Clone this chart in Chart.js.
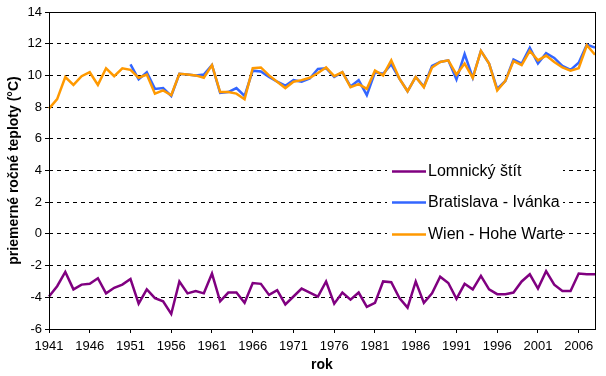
<!DOCTYPE html>
<html>
<head>
<meta charset="utf-8">
<script src="https://cdn.jsdelivr.net/npm/chart.js@4"></script>
<style>
  html, body { margin: 0; padding: 0; background: #fff; }
  #chart { display: block; }
</style>
</head>
<body>
<canvas id="chart" width="606" height="376"></canvas>
<script>
// years on the category axis
var years = [];
for (var y = 1941; y <= 2008; y++) years.push(String(y));

var lomnicky = [
  -3.95, -3.3, -2.4, -3.5, -3.2, -3.15, -2.8, -3.75, -3.4, -3.2,
  -2.85, -4.4, -3.5, -4.05, -4.25, -5.05, -3.0, -3.75, -3.6, -3.75,
  -2.5, -4.25, -3.7, -3.7, -4.35, -3.1, -3.15, -3.85, -3.55, -4.45,
  -3.95, -3.45, -3.7, -3.95, -3.0, -4.4, -3.7, -4.15, -3.7, -4.6,
  -4.35, -3.0, -3.05, -4.05, -4.65, -3.0, -4.35, -3.75, -2.7, -3.1,
  -4.1, -3.15, -3.5, -2.65, -3.5, -3.8, -3.8, -3.7, -3.0, -2.55,
  -3.45, -2.35, -3.2, -3.6, -3.6, -2.5, -2.55, -2.55
];

// Bratislava series starts in 1951
var bratislava = [
  null, null, null, null, null, null, null, null, null, null,
  10.7, 9.75, 10.2, 9.15, 9.2, 8.7, 10.1, 10.05, 10.0, 10.05,
  10.65, 8.9, 8.95, 9.2, 8.7, 10.3, 10.25, 9.9, 9.6, 9.35,
  9.7, 9.6, 9.8, 10.4, 10.45, 9.9, 10.2, 9.3, 9.7, 8.75,
  10.2, 10.1, 10.7, 9.8, 9.0, 9.9, 9.3, 10.6, 10.85, 10.95,
  9.75, 11.35, 9.85, 11.55, 10.75, 9.15, 9.65, 11.0, 10.75, 11.75,
  10.75, 11.4, 11.1, 10.6, 10.35, 10.8, 11.95, 11.75
];

var wien = [
  7.9, 8.5, 9.9, 9.4, 9.95, 10.2, 9.4, 10.45, 9.95, 10.45,
  10.35, 9.85, 10.05, 8.85, 9.05, 8.75, 10.1, 10.05, 10.0, 9.85,
  10.65, 8.95, 8.95, 8.85, 8.5, 10.45, 10.5, 10.0, 9.6, 9.2,
  9.6, 9.7, 9.85, 10.15, 10.5, 9.95, 10.2, 9.25, 9.45, 9.15,
  10.3, 10.0, 10.95, 9.8, 9.0, 9.9, 9.25, 10.5, 10.85, 10.95,
  10.05, 10.75, 9.85, 11.55, 10.75, 9.05, 9.65, 10.9, 10.65, 11.55,
  10.95, 11.25, 10.85, 10.5, 10.3, 10.45, 11.9, 11.3
];

var seriesNames = ['Lomnický štít', 'Bratislava - Ivánka', 'Wien - Hohe Warte'];
var seriesColors = ['#800080', '#3366ff', '#ff9900'];

var FONT = "'Liberation Sans', Arial, sans-serif";

// legend drawn inside the plot, over the grid, like the original
var insideLegend = {
  id: 'insideLegend',
  afterDatasetsDraw: function (chart) {
    var ctx = chart.ctx;
    var yScale = chart.scales.y;
    ctx.save();
    ctx.fillStyle = '#fff';
    ctx.fillRect(387, 152, 176, 96);
    var rows = [4, 2, 0];
    ctx.font = '16px ' + FONT;
    ctx.textBaseline = 'middle';
    ctx.textAlign = 'left';
    for (var i = 0; i < 3; i++) {
      var py = Math.round(yScale.getPixelForValue(rows[i])) + 0.5;
      ctx.strokeStyle = seriesColors[i];
      ctx.lineWidth = 2.5;
      ctx.beginPath();
      ctx.moveTo(392, py);
      ctx.lineTo(426, py);
      ctx.stroke();
      ctx.fillStyle = '#000';
      ctx.fillText(seriesNames[i], 428, py);
    }
    ctx.restore();
  },
  afterDraw: function (chart) {
    var a = chart.chartArea;
    var ctx = chart.ctx;
    ctx.save();
    ctx.strokeStyle = '#000';
    ctx.lineWidth = 1;
    ctx.strokeRect(Math.round(a.left) + 0.5, Math.round(a.top) + 0.5,
      Math.round(a.right - a.left), Math.round(a.bottom - a.top));
    ctx.restore();
  }
};

new Chart(document.getElementById('chart').getContext('2d'), {
  type: 'line',
  data: {
    labels: years,
    datasets: [
      { label: seriesNames[2], data: wien, borderColor: seriesColors[2], order: 0 },
      { label: seriesNames[1], data: bratislava, borderColor: seriesColors[1], order: 1 },
      { label: seriesNames[0], data: lomnicky, borderColor: seriesColors[0], order: 2 }
    ]
  },
  options: {
    responsive: false,
    animation: false,
    devicePixelRatio: 1,
    datasets: {
      line: { borderWidth: 2.5, pointRadius: 0, tension: 0, fill: false, spanGaps: false }
    },
    layout: { padding: { left: 0, right: 11, top: 12, bottom: 0 } },
    plugins: {
      legend: { display: false },
      tooltip: { enabled: false }
    },
    scales: {
      x: {
        offset: false,
        grid: { drawOnChartArea: false, drawTicks: true, tickLength: 4, color: '#000' },
        border: { display: false },
        ticks: {
          autoSkip: false,
          maxRotation: 0,
          padding: 6,
          color: '#000',
          font: { family: FONT, size: 13 },
          callback: function (val, idx) {
            return idx % 5 === 0 ? this.getLabelForValue(val) : null;
          }
        },
        title: {
          display: true,
          text: 'rok',
          color: '#000',
          font: { family: FONT, size: 14, weight: 'bold' },
          padding: { top: 0, bottom: 2 }
        },
        afterFit: function (scale) { scale.height = 47; }
      },
      y: {
        min: -6,
        max: 14,
        grid: { color: '#000', lineWidth: 1, tickLength: 4, tickBorderDash: [] },
        border: { display: false, dash: [4, 4] },
        ticks: {
          stepSize: 2,
          padding: 3,
          color: '#000',
          font: { family: FONT, size: 13 }
        },
        title: {
          display: true,
          text: 'priemerné ročné teploty (°C)',
          color: '#000',
          font: { family: FONT, size: 14, weight: 'bold' },
          padding: { top: 6, bottom: 0 }
        },
        afterFit: function (scale) { scale.width = 49; }
      }
    }
  },
  plugins: [insideLegend]
});
</script>
</body>
</html>
